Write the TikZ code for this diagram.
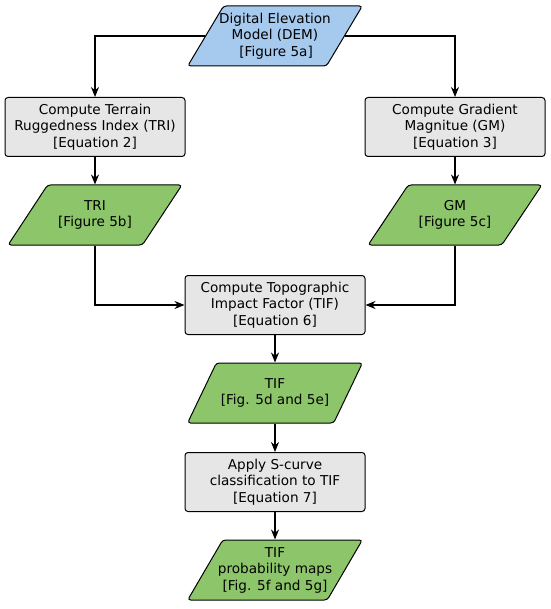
\documentclass[tikz,border=0pt]{standalone}
\usepackage{fontspec}
\setmainfont{DejaVu Sans}
\usepackage{xcolor}
\usetikzlibrary{positioning, arrows.meta, shapes.geometric}

\definecolor{demblue}{RGB}{166,201,238}
\definecolor{mapgreen}{RGB}{141,198,106}
\definecolor{boxgray}{RGB}{230,230,230}

\begin{document}
\begin{tikzpicture}[x=1pt, y=-1pt,
    font=\fontsize{13.6}{16.5}\selectfont,
    process/.style={rectangle, draw, rounded corners=3pt, fill=boxgray, line width=1pt,
        minimum width=180pt, minimum height=59pt, align=center},
    data/.style={trapezium, trapezium left angle=60, trapezium right angle=120,
        trapezium stretches=true, draw, rounded corners=3pt, line width=1pt,
        minimum width=175pt, minimum height=60pt, inner xsep=-12pt, align=center},
    arr/.style={-{Stealth[length=10pt, width=8pt]}, line width=1.2pt}]
            \useasboundingbox (0, 0) rectangle (550, 609);

            \node[data, fill=demblue] (dem) at (275, 36) {Digital Elevation\\Model (DEM)\\\,[Figure 5a]};
            \node[process] (tri) at (95, 127) {Compute Terrain\\Ruggedness Index (TRI)\\{}[Equation 2]};
            \node[process] (gm) at (455, 127) {Compute Gradient\\Magnitue (GM)\\{}[Equation 3]};
            \node[data, fill=mapgreen] (trimap) at (95, 215) {TRI\\{}[Figure 5b]};
            \node[data, fill=mapgreen] (gmmap) at (455, 215) {GM\\{}[Figure 5c]};
            \node[process] (tif) at (275, 305) {Compute Topographic\\Impact Factor (TIF)\\{}[Equation 6]};
            \node[data, fill=mapgreen] (tifmap) at (275, 393) {TIF\\{}[Fig. 5d and 5e]};
            \node[process] (scurve) at (275, 482) {Apply S-curve\\classification to TIF\\{}[Equation 7]};
            \node[data, fill=mapgreen] (probmap) at (275, 570) {TIF\\probability maps\\{}[Fig. 5f and 5g]};

            \draw[arr] (dem) -| (tri);
            \draw[arr] (dem) -| (gm);
            \draw[arr] (tri) -- (trimap);
            \draw[arr] (gm) -- (gmmap);
            \draw[arr] (trimap) |- (tif);
            \draw[arr] (gmmap) |- (tif);
            \draw[arr] (tif) -- (tifmap);
            \draw[arr] (tifmap) -- (scurve);
            \draw[arr] (scurve) -- (probmap);
        \end{tikzpicture}
\end{document}
